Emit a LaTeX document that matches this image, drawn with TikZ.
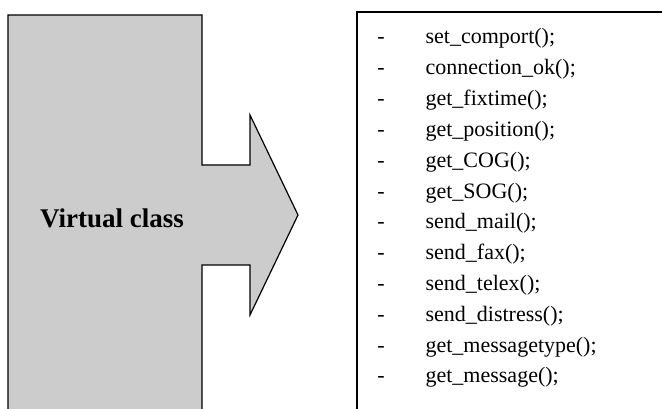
\documentclass[tikz,border=0pt]{standalone}
\usepackage{fontspec}
\setmainfont{Liberation Serif}
\usetikzlibrary{positioning}

\begin{document}
\begin{tikzpicture}[x=1pt, y=-1pt, line width=1.2pt,
        every node/.style={inner sep=0pt},
        fn/.style={anchor=base west, font=\fontsize{22}{26}\selectfont},
        bullet/.style={anchor=base, font=\fontsize{22}{26}\selectfont}]
        \useasboundingbox (0,0) rectangle (672,409);

        % class block with the arrow pointing to the list
        \fill[gray!40] (8,15) -- (202,15) -- (202,165) -- (250,165) -- (250,115) -- (298,215)
            -- (250,315) -- (250,265) -- (202,265) -- (202,409) -- (8,409) -- cycle;
        \draw (8,409) -- (8,15) -- (202,15) -- (202,165) -- (250,165) -- (250,115) -- (298,215)
            -- (250,315) -- (250,265) -- (202,265) -- (202,409);
        \node[font=\fontsize{27}{31}\selectfont\bfseries] (vc) at (112,218) {Virtual class};

        % list of methods
        \draw (357,409) -- (357,12) -- (662,12);
        \foreach \name [count=\i] in {{set\_comport();}, {connection\_ok();}, {get\_fixtime();},
            {get\_position();}, {get\_COG();}, {get\_SOG();}, {send\_mail();}, {send\_fax();},
            {send\_telex();}, {send\_distress();}, {get\_messagetype();}, {get\_message();}} {
            \node[fn] (m\i) at (425, 44+30.8*\i-30.8) {\name};
            \node[bullet] (d\i) at (381, 44+30.8*\i-30.8) {-};
        }
    \end{tikzpicture}
\end{document}
